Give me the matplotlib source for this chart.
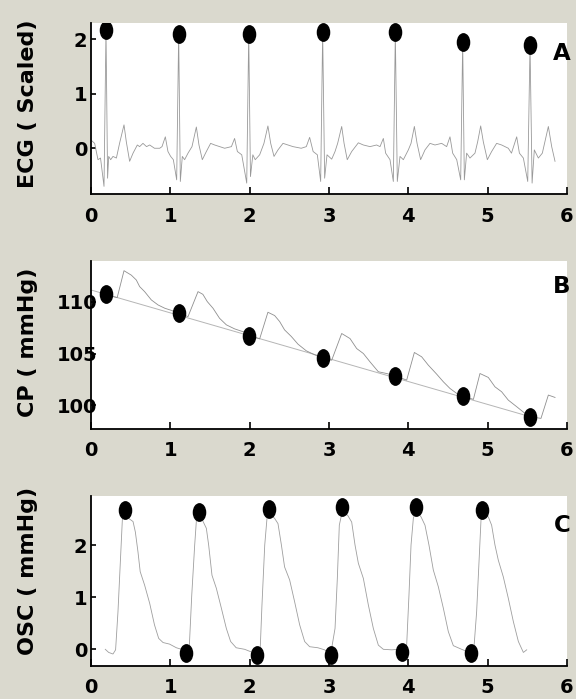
import matplotlib
matplotlib.use("Agg")
import matplotlib.pyplot as plt
from matplotlib.path import Path
import numpy as np

# ---------------- data ----------------
ecg_points = [
    (0.0, 0.15), (0.046, 0.09), (0.088, -0.21), (0.12, -0.18), (0.164, -0.70),
    (0.189, 2.18), (0.209, -0.55), (0.223, -0.15), (0.248, -0.21), (0.277, -0.15),
    (0.32, -0.18), (0.36, 0.09), (0.416, 0.43), (0.445, 0.12), (0.487, -0.24),
    (0.53, -0.09), (0.584, 0.06), (0.613, 0.03), (0.655, 0.09), (0.70, 0.03),
    (0.74, 0.06), (0.80, 0.0), (0.866, 0.0), (0.895, 0.03), (0.937, 0.21),
    (0.97, -0.06), (1.004, -0.15), (1.038, -0.21), (1.08, -0.58), (1.105, 2.10),
    (1.126, -0.61), (1.151, -0.15), (1.18, -0.21), (1.223, -0.09), (1.273, 0.03),
    (1.328, 0.39), (1.361, 0.06), (1.403, -0.21), (1.454, -0.06), (1.508, 0.09),
    (1.559, 0.06), (1.62, 0.03), (1.685, 0.0), (1.77, 0.03), (1.81, 0.18),
    (1.845, -0.06), (1.90, -0.12), (1.963, -0.64), (1.988, 2.10), (2.01, -0.52),
    (2.04, -0.12), (2.07, -0.21), (2.126, -0.12), (2.18, 0.09), (2.23, 0.41),
    (2.265, 0.09), (2.307, -0.15), (2.357, -0.03), (2.42, 0.09), (2.483, 0.06),
    (2.546, 0.03), (2.65, 0.0), (2.714, 0.03), (2.756, 0.20), (2.80, -0.06),
    (2.853, -0.12), (2.895, -0.61), (2.92, 2.13), (2.945, -0.55), (2.975, -0.12),
    (3.034, -0.20), (3.076, -0.06), (3.109, 0.09), (3.16, 0.40), (3.19, 0.09),
    (3.23, -0.21), (3.286, -0.06), (3.37, 0.10), (3.433, 0.06), (3.517, 0.03),
    (3.60, 0.06), (3.643, 0.03), (3.685, 0.18), (3.714, -0.09), (3.769, -0.21),
    (3.811, -0.61), (3.836, 2.13), (3.861, -0.61), (3.895, -0.15), (3.937, -0.21),
    (4.0, -0.03), (4.034, 0.09), (4.076, 0.40), (4.11, 0.09), (4.155, -0.21),
    (4.21, -0.03), (4.273, 0.09), (4.336, 0.06), (4.42, 0.09), (4.483, 0.03),
    (4.525, 0.21), (4.559, -0.09), (4.61, -0.21), (4.66, -0.58), (4.685, 1.945),
    (4.706, -0.58), (4.735, -0.09), (4.777, -0.18), (4.84, -0.09), (4.874, 0.12),
    (4.912, 0.41), (4.945, 0.12), (4.996, -0.21), (5.05, -0.06), (5.113, 0.09),
    (5.176, 0.06), (5.26, 0.0), (5.30, -0.09), (5.366, 0.21), (5.40, -0.09),
    (5.45, -0.18), (5.505, -0.61), (5.534, 1.90), (5.56, -0.64), (5.588, -0.03),
    (5.639, -0.18), (5.689, -0.09), (5.765, 0.40), (5.807, 0.03), (5.849, -0.24),
]
ecg_peak_t = [0.189, 1.105, 1.988, 2.92, 3.836, 4.685, 5.534]
ecg_peak_y = [2.18, 2.10, 2.10, 2.13, 2.13, 1.945, 1.90]

cp_points = [
    (0.193, 110.68), (0.33, 110.42), (0.416, 113.03), (0.508, 112.6), (0.571, 112.13),
    (0.613, 111.49), (0.676, 111.0), (0.76, 110.2), (0.845, 109.71), (0.93, 109.39),
    (1.034, 109.13), (1.105, 108.9), (1.223, 108.58), (1.349, 111.0), (1.41, 110.74),
    (1.466, 110.03), (1.538, 109.39), (1.62, 108.42), (1.706, 107.78), (1.81, 107.39),
    (1.937, 107.06), (1.99, 106.74), (2.126, 106.42), (2.23, 109.0), (2.315, 108.68),
    (2.378, 108.1), (2.44, 107.29), (2.525, 106.65), (2.61, 105.9), (2.714, 105.26),
    (2.82, 104.87), (2.92, 104.6), (3.034, 104.35), (3.16, 106.94), (3.265, 106.45),
    (3.349, 105.48), (3.433, 105.0), (3.517, 104.19), (3.622, 103.23), (3.727, 103.06),
    (3.832, 102.84), (3.979, 102.42), (4.076, 105.1), (4.168, 104.68), (4.252, 103.87),
    (4.357, 103.0), (4.441, 102.26), (4.525, 101.61), (4.61, 101.13), (4.685, 100.9),
    (4.82, 100.55), (4.903, 103.06), (5.008, 102.68), (5.092, 101.77), (5.176, 101.29),
    (5.26, 100.48), (5.366, 99.84), (5.471, 99.19), (5.534, 98.87), (5.672, 98.71),
    (5.765, 100.97), (5.849, 100.74),
]
cp_trend_t = [0.0, 5.6]
cp_trend_y = [111.16, 98.73]
cp_mark_t = [0.19, 1.105, 1.988, 2.92, 3.836, 4.685, 5.534]
cp_mark_y = [110.75, 108.88, 106.7, 104.58, 102.8, 100.87, 98.87]

osc_points = [
    (0.18, 0.0), (0.223, -0.06), (0.277, -0.09), (0.31, -0.01), (0.34, 0.72),
    (0.37, 1.68), (0.395, 2.48), (0.424, 2.62), (0.466, 2.52), (0.53, 2.45),
    (0.559, 2.25), (0.592, 1.87), (0.62, 1.49), (0.676, 1.23), (0.74, 0.88),
    (0.80, 0.47), (0.853, 0.21), (0.908, 0.13), (0.99, 0.10), (1.076, 0.03),
    (1.14, 0.0), (1.20, -0.06), (1.24, 0.08), (1.27, 1.04), (1.307, 2.0),
    (1.328, 2.46), (1.357, 2.58), (1.41, 2.46), (1.454, 2.32), (1.483, 2.0),
    (1.525, 1.42), (1.58, 1.17), (1.643, 0.79), (1.706, 0.40), (1.76, 0.15),
    (1.83, 0.03), (1.937, 0.0), (2.02, -0.05), (2.09, -0.10), (2.134, 0.05),
    (2.155, 0.85), (2.19, 2.0), (2.22, 2.54), (2.244, 2.62), (2.315, 2.51),
    (2.357, 2.41), (2.40, 2.0), (2.44, 1.58), (2.504, 1.33), (2.567, 0.91),
    (2.63, 0.47), (2.693, 0.15), (2.756, 0.05), (2.86, 0.03), (2.945, -0.01),
    (3.02, -0.10), (3.076, 0.40), (3.105, 1.36), (3.13, 2.38), (3.168, 2.65),
    (3.235, 2.57), (3.286, 2.44), (3.328, 2.0), (3.37, 1.65), (3.433, 1.36),
    (3.496, 0.85), (3.559, 0.40), (3.622, 0.08), (3.685, 0.0), (3.79, -0.01),
    (3.874, 0.0), (3.924, -0.05), (3.979, 0.08), (4.008, 1.04), (4.034, 2.0),
    (4.063, 2.51), (4.092, 2.66), (4.16, 2.54), (4.21, 2.38), (4.26, 2.0),
    (4.315, 1.52), (4.378, 1.20), (4.441, 0.79), (4.504, 0.34), (4.567, 0.07),
    (4.672, 0.0), (4.786, -0.07), (4.828, 0.05), (4.861, 0.72), (4.891, 1.68),
    (4.916, 2.48), (4.933, 2.60), (5.008, 2.54), (5.05, 2.38), (5.092, 2.0),
    (5.134, 1.71), (5.197, 1.39), (5.26, 0.98), (5.324, 0.53), (5.387, 0.15),
    (5.45, -0.06), (5.492, -0.01),
]
osc_peak_t = [0.424, 1.357, 2.244, 3.168, 4.092, 4.933]
osc_peak_y = [2.68, 2.64, 2.70, 2.73, 2.73, 2.67]
osc_trough_t = [1.20, 2.09, 3.02, 3.924, 4.786]
osc_trough_y = [-0.07, -0.11, -0.10, -0.05, -0.07]

x_ticks = [0, 1, 2, 3, 4, 5, 6]
ecg_yticks = [0, 1, 2]
cp_yticks = [100, 105, 110]
osc_yticks = [0, 1, 2]
ylabels = ["ECG ( Scaled)", "CP ( mmHg)", "OSC ( mmHg)"]
panel_letters = ["A", "B", "C"]

# ---------------- figure ----------------
W, H = 576, 699
FONT = "DejaVu Sans"
fig = plt.figure(figsize=(W / 100, H / 100), dpi=100, facecolor="#dad9ce")

circ = Path.unit_circle()
ellipse = Path(circ.vertices * np.array([0.7, 1.0]), circ.codes)

def px(x0, y0, x1, y1):
    return [x0 / W, 1 - y1 / H, (x1 - x0) / W, (y1 - y0) / H]

axA = fig.add_axes(px(91, 23, 567, 194))
axB = fig.add_axes(px(91, 260.7, 567, 429.3))
axC = fig.add_axes(px(91, 496, 567, 666))

def style(ax, ylim, yticks, ypad, xpad):
    ax.set_facecolor("white")
    ax.set_xlim(0, 6)
    ax.set_ylim(*ylim)
    ax.set_xticks(x_ticks)
    ax.set_yticks(yticks)
    for s in ("top", "right"):
        ax.spines[s].set_visible(False)
    for s in ("left", "bottom"):
        ax.spines[s].set_linewidth(1.3)
        ax.spines[s].set_color("black")
    ax.tick_params(axis="x", direction="in", length=5, width=1.2, pad=xpad)
    ax.tick_params(axis="y", direction="in", length=3.5, width=1.2, pad=ypad)
    for lab in ax.get_xticklabels() + ax.get_yticklabels():
        lab.set_fontfamily(FONT)
        lab.set_fontweight("bold")
        lab.set_fontsize(14)
        lab.set_color("black")

# Panel A
et = [p[0] for p in ecg_points]
ey = [p[1] for p in ecg_points]
axA.plot(et, ey, color="#999999", lw=0.6)
axA.plot(ecg_peak_t, ecg_peak_y, ls="none", marker=ellipse, ms=12.5, color="black")
style(axA, (-0.84, 2.3), ecg_yticks, 2.5, 9.5)

# Panel B
ct = [p[0] for p in cp_points]
cy = [p[1] for p in cp_points]
axB.plot(cp_trend_t, cp_trend_y, color="#b5b5b5", lw=0.7)
axB.plot(ct, cy, color="#8f8f8f", lw=0.6)
axB.plot(cp_mark_t, cp_mark_y, ls="none", marker=ellipse, ms=12.5, color="black")
style(axB, (97.65, 114.0), cp_yticks, -4.5, 8.5)

# Panel C
ot = [p[0] for p in osc_points]
oy = [p[1] for p in osc_points]
axC.plot(ot, oy, color="#9e9e9e", lw=0.6)
axC.plot(osc_peak_t, osc_peak_y, ls="none", marker=ellipse, ms=12.5, color="black")
axC.plot(osc_trough_t, osc_trough_y, ls="none", marker=ellipse, ms=12.5, color="black")
style(axC, (-0.32, 2.94), osc_yticks, 2.5, 8.5)

# y labels
for lab, yc in zip(ylabels, [104, 342.5, 571]):
    fig.text(28 / W, 1 - yc / H, lab, rotation=90, ha="center", va="center",
             fontsize=16, fontweight="bold", family=FONT, color="black")

# panel letters
for let, yb in zip(panel_letters, [60, 293, 532]):
    fig.text(562 / W, 1 - yb / H, let, ha="center", va="baseline",
             fontsize=16.5, fontweight="bold", family=FONT, color="black")

fig.savefig("out.png", dpi=100, facecolor=fig.get_facecolor())
